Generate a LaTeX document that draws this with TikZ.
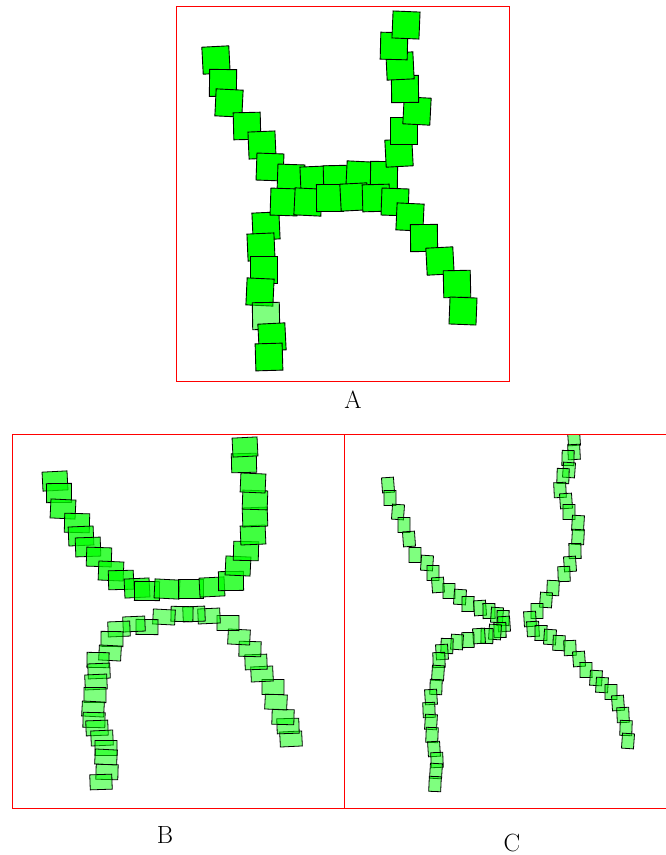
\documentclass[tikz,border=0pt]{standalone}
\usepackage{tikz}
\definecolor{leaf}{RGB}{0,255,0}
\begin{document}
\begin{tikzpicture}[x=1pt,y=-1pt,
 sqa/.style={draw=black,fill=leaf,line width=0.9pt,inner sep=0pt,minimum size=27pt},
 sqb/.style={draw=black,fill=leaf,fill opacity=0.75,line width=0.8pt,inner sep=0pt,minimum width=25pt,minimum height=19pt},
 sqc/.style={draw=black,fill=leaf,fill opacity=0.5,line width=0.8pt,inner sep=0pt,minimum width=22pt,minimum height=15pt},
 sqd/.style={draw=black,fill=leaf,fill opacity=0.5,line width=0.8pt,inner sep=0pt,minimum width=12pt,minimum height=15pt},
 frame/.style={draw=red,line width=1pt}]
\useasboundingbox (0,0) rectangle (666,855);
% panel A
\foreach \x/\y [count=\i] in {216/60,223/83,229/103,247/126,262/145,270/167,291/178,314/180,337/179,360/175,384/175,399/153,404/131,417/111,405/89,400/66,394/46,406/25}
 \node[sqa,rotate={3*sin(\i*97)}] (a\i) at (\x,\y) {};
\foreach \x/\y [count=\i] in {266/226,261/247,264/270,260/292}
 \node[sqa,rotate={3*sin(\i*61)}] (al\i) at (\x,\y) {};
\node[sqa,fill opacity=0.5,rotate=1] (ahalf) at (266,316) {};
\foreach \x/\y [count=\i] in {272/337,269/357,284/202,308/202,330/198,354/197,376/198,395/202,410/217,424/238,440/261,457/284,463/311}
 \node[sqa,rotate={3*sin(\i*73)}] (ar\i) at (\x,\y) {};
\draw[frame](176.5,6.5) rectangle (509.5,381.5);
\node (labA) at (353,400) {\Huge A};
% panel B
\foreach \x/\y [count=\i] in {55/481,59/493,63/509,77/523,81/536,88/547,99/557,111/571,121/580,137/588,147/591,167/589,191/589,212/587,231/581,238/566,246/551,253/535,255/517,255/500,253/483,244/463,245/447}
 \node[sqb,rotate={3*sin(\i*83)}] (b\i) at (\x,\y) {};
\foreach \x/\y [count=\i] in {291/739,288/726,283/717,276/702,273/687,262/674,256/662,250/649,239/637,228/623,209/616,194/614,182/614,164/617,147/627,134/624,119/629,112/639,110/653,98/660,99/671,96/682,95/695,93/709,94/720,97/728,102/738,106/748,106/757,107/772,101/782}
 \node[sqc,rotate={3*sin(\i*71)}] (c\i) at (\x,\y) {};
\draw[frame](12.5,434.5) rectangle (344.5,808.5);
\node (labB) at (165,835) {\Huge B};
% panel C
\begin{scope}
\clip (344.5,434.5) rectangle (666,808.5);
\foreach \x/\y [count=\i] in {388/485,390/498,398/512,404/525,409/539,415/555,427/563,433/573,438/585,449/591,460/597,468/604,480/608,489/611,497/615,503/618,504/624,500/630,495/632,487/636,479/636,468/640,457/642,447/646,442/652,439/660,438/673,436/687,431/697,429/710,431/722,432/735,434/749,437/760,436/771,435/784}
 \node[sqd,rotate={4*sin(\i*89)}] (d\i) at (\x,\y) {};
\foreach \x/\y [count=\i] in {574/438,574/452,568/458,569/470,563/476,560/490,566/501,569/512,578/523,578/537,575/551,570/564,564/574,553/588,546/600,537/611,530/619,533/629,541/633,550/637,559/643,570/648,579/659,586/670,596/678,602/685,611/692,618/703,623/715,626/728,628/741}
 \node[sqd,rotate={4*sin(\i*67)}] (e\i) at (\x,\y) {};
\end{scope}
\draw[frame](666,434.5)--(344.5,434.5)--(344.5,808.5)--(666,808.5);
\node (labC) at (512,843) {\Huge C};
\end{tikzpicture}
\end{document}
